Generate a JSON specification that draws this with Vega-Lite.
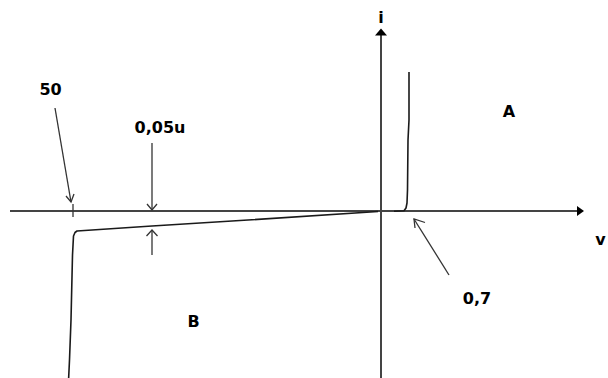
{
  "$schema": "https://vega.github.io/schema/vega-lite/v6.json",
  "width": 608,
  "height": 378,
  "padding": 0,
  "autosize": {"type": "none"},
  "background": "white",
  "config": {"view": {"stroke": null}},
  "datasets": {
    "lines": [
      {"kind": "axis", "path": "vaxis_h", "k": 0, "x": -371, "y": 0},
      {"kind": "axis", "path": "vaxis_h", "k": 1, "x": 197, "y": 0},
      {"kind": "axis", "path": "iaxis_v", "k": 0, "x": 0, "y": -169},
      {"kind": "axis", "path": "iaxis_v", "k": 1, "x": 0, "y": 177},

      {"kind": "curve", "path": "forward", "k": 0, "x": 13, "y": -0.2},
      {"kind": "curve", "path": "forward", "k": 1, "x": 23, "y": 0.2},
      {"kind": "curve", "path": "forward", "k": 2, "x": 25, "y": 3},
      {"kind": "curve", "path": "forward", "k": 3, "x": 26, "y": 8},
      {"kind": "curve", "path": "forward", "k": 4, "x": 26.5, "y": 21},
      {"kind": "curve", "path": "forward", "k": 5, "x": 27, "y": 71},
      {"kind": "curve", "path": "forward", "k": 6, "x": 28, "y": 91},
      {"kind": "curve", "path": "forward", "k": 7, "x": 28, "y": 139},

      {"kind": "curve", "path": "reverse", "k": 0, "x": -3, "y": -0.5},
      {"kind": "curve", "path": "reverse", "k": 1, "x": -141, "y": -9.5},
      {"kind": "curve", "path": "reverse", "k": 2, "x": -229, "y": -15},
      {"kind": "curve", "path": "reverse", "k": 3, "x": -304, "y": -20},
      {"kind": "curve", "path": "reverse", "k": 4, "x": -306, "y": -21.5},
      {"kind": "curve", "path": "reverse", "k": 5, "x": -307.5, "y": -25},
      {"kind": "curve", "path": "reverse", "k": 6, "x": -308.5, "y": -44},
      {"kind": "curve", "path": "reverse", "k": 7, "x": -310, "y": -109},
      {"kind": "curve", "path": "reverse", "k": 8, "x": -311.5, "y": -149},
      {"kind": "curve", "path": "reverse", "k": 9, "x": -312.5, "y": -170},

      {"kind": "note", "path": "tick50", "k": 0, "x": -308, "y": 7},
      {"kind": "note", "path": "tick50", "k": 1, "x": -308, "y": -6},

      {"kind": "note", "path": "arrow50", "k": 0, "x": -326, "y": 103},
      {"kind": "note", "path": "arrow50", "k": 1, "x": -310, "y": 9},
      {"kind": "note", "path": "head50", "k": 0, "x": -315, "y": 15},
      {"kind": "note", "path": "head50", "k": 1, "x": -310, "y": 9},
      {"kind": "note", "path": "head50", "k": 2, "x": -307, "y": 17},

      {"kind": "note", "path": "arrowDown", "k": 0, "x": -229, "y": 68},
      {"kind": "note", "path": "arrowDown", "k": 1, "x": -229, "y": 1},
      {"kind": "note", "path": "headDown", "k": 0, "x": -234, "y": 7},
      {"kind": "note", "path": "headDown", "k": 1, "x": -229, "y": 1},
      {"kind": "note", "path": "headDown", "k": 2, "x": -224, "y": 7},

      {"kind": "note", "path": "arrowUp", "k": 0, "x": -229, "y": -44},
      {"kind": "note", "path": "arrowUp", "k": 1, "x": -229, "y": -19},
      {"kind": "note", "path": "headUp", "k": 0, "x": -234.5, "y": -25},
      {"kind": "note", "path": "headUp", "k": 1, "x": -229, "y": -19},
      {"kind": "note", "path": "headUp", "k": 2, "x": -223.5, "y": -25},

      {"kind": "note", "path": "arrow07", "k": 0, "x": 68, "y": -64},
      {"kind": "note", "path": "arrow07", "k": 1, "x": 33, "y": -8},
      {"kind": "note", "path": "head07", "k": 0, "x": 44, "y": -11.5},
      {"kind": "note", "path": "head07", "k": 1, "x": 33, "y": -8},
      {"kind": "note", "path": "head07", "k": 2, "x": 34, "y": -17}
    ],
    "heads": [
      {"dir": "right", "x": 198, "y": 0},
      {"dir": "up", "x": 0, "y": 176.5}
    ],
    "labels": [
      {"label": "50", "x": -330.5, "y": 116, "align": "center"},
      {"label": "0,05u", "x": -221, "y": 78.5, "align": "center"},
      {"label": "A", "x": 128, "y": 94.5, "align": "center"},
      {"label": "B", "x": -187.5, "y": -116, "align": "center"},
      {"label": "0,7", "x": 96, "y": -92.5, "align": "center"},
      {"label": "i", "x": 0, "y": 188, "align": "center"},
      {"label": "v", "x": 219.5, "y": -34, "align": "left"}
    ]
  },
  "encoding": {
    "x": {"field": "x", "type": "quantitative", "axis": null, "scale": {"domain": [-381, 227], "nice": false, "zero": false}},
    "y": {"field": "y", "type": "quantitative", "axis": null, "scale": {"domain": [-167, 211], "nice": false, "zero": false}}
  },
  "layer": [
    {
      "data": {"name": "lines"},
      "transform": [{"filter": "datum.kind === 'axis'"}],
      "mark": {"type": "line", "color": "#444444", "strokeWidth": 2},
      "encoding": {
        "detail": {"field": "path"},
        "order": {"field": "k", "type": "quantitative"}
      }
    },
    {
      "data": {"name": "lines"},
      "transform": [{"filter": "datum.kind === 'curve'"}],
      "mark": {"type": "line", "color": "#1a1a1a", "strokeWidth": 1.6, "strokeJoin": "round"},
      "encoding": {
        "detail": {"field": "path"},
        "order": {"field": "k", "type": "quantitative"}
      }
    },
    {
      "data": {"name": "lines"},
      "transform": [{"filter": "datum.kind === 'note'"}],
      "mark": {"type": "line", "color": "#333333", "strokeWidth": 1.3, "strokeJoin": "miter"},
      "encoding": {
        "detail": {"field": "path"},
        "order": {"field": "k", "type": "quantitative"}
      }
    },
    {
      "data": {"name": "heads"},
      "transform": [{"filter": "datum.dir === 'right'"}],
      "mark": {"type": "point", "filled": true, "color": "#000000", "opacity": 1, "size": 100, "shape": "M1,0L-0.4,-1L-0.4,1Z"}
    },
    {
      "data": {"name": "heads"},
      "transform": [{"filter": "datum.dir === 'up'"}],
      "mark": {"type": "point", "filled": true, "color": "#000000", "opacity": 1, "size": 144, "shape": "M0,-1L1,0.17L-1,0.17Z"}
    },
    {
      "data": {"name": "labels"},
      "mark": {"type": "text", "font": "DejaVu Sans", "fontWeight": "bold", "fontSize": 16, "baseline": "alphabetic", "color": "#000000"},
      "encoding": {
        "text": {"field": "label"},
        "align": {"field": "align", "type": "nominal", "scale": null}
      }
    }
  ]
}
